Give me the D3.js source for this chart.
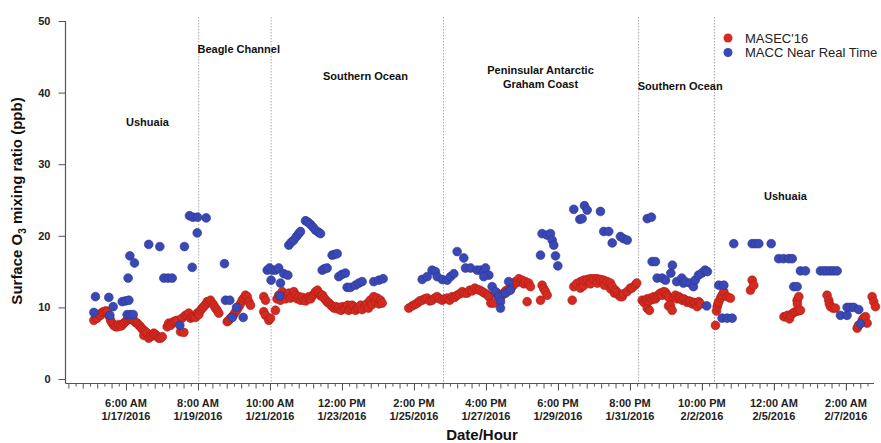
<!DOCTYPE html>
<html lang="en">
<head>
<meta charset="UTF-8" />
<script src="https://cdnjs.cloudflare.com/ajax/libs/d3/7.8.5/d3.min.js"></script>
<title>Surface O3</title>
<style>
body { margin: 0; background: #fff; }
text { font-family: "Liberation Sans", Arial, sans-serif; }
</style>
</head>
<body>
<svg id="chart" width="881" height="443"></svg>
<script>

// hours since 2016-01-15 12:00, ozone in ppb
const masec = [
  [19.7,8.2],[21.0,8.7],[22.0,8.5],[23.2,9.0],[24.3,8.9],[25.5,9.3],[26.6,9.4],[28.0,9.5],[29.0,9.4],
  [30.2,8.8],[31.3,8.2],[32.4,7.8],[33.5,7.5],[34.7,7.3],[35.9,7.3],[37.0,7.6],[38.2,7.4],[39.3,7.5],
  [40.5,7.8],[41.6,8.0],[42.8,8.2],[44.0,8.4],[45.1,8.5],[46.2,8.3],[47.4,8.2],[48.6,7.9],[49.8,7.8],
  [51.0,7.5],[52.1,7.3],[53.2,7.0],[54.4,6.8],[54.4,6.1],[55.5,6.6],[56.7,6.4],[57.8,5.7],[59.0,6.1],
  [60.2,6.0],[61.3,6.4],[62.5,6.2],[63.5,6.0],[64.8,5.7],[66.0,5.7],[67.2,5.9],
  [70.6,7.3],[71.7,7.8],[72.9,7.5],[74.1,7.8],[75.2,8.0],[76.4,8.1],[77.6,8.2],[79.9,6.6],[81.0,8.5],
  [82.2,6.5],[83.3,8.9],[84.5,8.9],[85.6,9.2],[86.8,8.5],[88.0,8.7],[89.1,8.7],[90.3,8.6],[91.5,9.2],
  [92.6,9.0],[93.8,9.6],[95.0,9.9],[96.0,10.1],[97.2,10.4],[98.4,10.8],[99.5,10.7],[100.7,11.0],
  [101.9,10.6],[103.0,10.3],[104.2,9.9],[105.3,9.6],[106.5,9.2],
  [112.3,8.0],[113.4,8.2],[114.6,8.5],[115.8,8.7],[116.9,9.0],[118.1,9.4],[119.2,9.7],[120.4,10.1],
  [121.5,10.5],[122.7,11.0],[123.8,11.3],[125.0,11.7],[126.2,11.5],[127.3,10.8],[128.5,10.3],
  [137.7,11.5],[137.7,9.4],[138.9,11.0],[138.9,8.9],[141.2,8.2],[142.4,8.5],[145.8,9.6],
  [146.9,11.2],[148.1,11.7],[149.3,11.0],[150.5,12.2],[151.6,11.5],[152.8,11.2],[154.0,11.8],
  [155.1,12.0],[156.3,11.3],[157.5,11.6],[158.6,12.2],[159.8,11.7],[161.0,11.2],[162.1,11.5],
  [163.3,11.0],[164.5,11.4],[165.6,11.0],[166.8,10.9],[168.0,11.3],[169.1,11.5],[170.3,11.2],
  [171.5,11.6],[172.6,11.9],[173.8,12.2],[175.0,12.4],[176.1,12.0],[177.3,11.6],[178.5,11.7],
  [179.6,11.3],[180.8,11.0],[182.0,10.7],[183.1,10.6],[184.3,10.3],[185.5,10.1],[186.6,9.9],
  [187.8,10.1],[189.0,9.8],[190.1,10.0],[191.3,9.6],[192.5,10.1],[193.6,9.8],[194.8,10.0],
  [196.0,10.3],[196.7,9.6],[197.9,9.9],[199.0,10.3],[200.2,10.1],[201.4,9.6],[202.6,9.9],
  [203.7,10.0],[204.9,10.3],[206.0,9.7],
  [208.0,10.1],[209.2,10.5],[210.4,9.9],[211.6,11.0],[212.9,10.4],[214.1,11.5],[215.3,10.8],
  [216.5,11.3],[217.7,10.5],[218.8,11.0],[219.9,10.6],
  [238.4,9.9],[240.8,10.2],[242.6,10.4],[244.3,10.6],[246.0,10.9],[247.7,11.0],[249.5,11.2],
  [251.2,11.3],[252.9,10.9],[254.6,11.0],[256.4,11.3],[258.1,11.5],[259.8,11.2],[261.6,11.0],
  [263.3,11.2],[265.1,11.3],[266.8,11.0],[268.6,11.5],[270.3,11.4],[272.0,11.7],[273.8,11.9],
  [275.5,12.2],[277.2,12.0],[279.0,12.0],[280.7,12.4],[282.5,12.3],[284.2,12.7],[285.9,12.5],
  [287.7,12.4],[289.4,12.2],[291.0,12.0],[292.9,11.8],[294.0,11.5],[295.4,10.6],[297.4,10.6],
  [298.6,11.9],[299.8,12.0],[301.0,11.6],[302.1,11.4],[303.3,11.7],[304.4,12.0],[305.6,12.3],
  [306.7,12.2],[308.0,12.6],[309.0,12.6],[310.2,12.9],[311.4,13.2],[312.5,13.6],[313.7,13.5],
  [314.8,14.0],[316.0,13.6],[317.1,13.8],[318.3,13.3],[319.4,13.6],[320.6,10.8],[321.7,13.4],
  [322.9,12.9],[329.9,11.0],[331.0,13.1],[332.2,12.6],[333.3,12.2],[334.5,11.7],
  [351.9,11.0],[353.0,12.9],[354.9,13.3],[357.6,13.6],[357.6,12.7],[359.7,13.0],[359.9,13.8],
  [362.3,13.9],[364.6,14.0],[364.6,13.3],[366.9,14.0],[369.2,14.0],[369.4,13.4],[371.5,13.9],
  [373.8,13.8],[374.3,13.1],[376.2,13.6],[378.5,13.4],[378.5,12.6],[379.7,12.9],[381.2,12.0],
  [381.9,12.4],[383.1,12.1],[384.2,11.7],[385.4,11.5],[386.6,11.5],[387.5,11.9],[390.0,12.2],
  [392.3,12.7],[393.4,12.7],[395.6,13.1],[396.7,13.4],
  [400.5,11.0],[401.7,10.7],[403.0,11.0],[404.0,11.2],[404.0,9.9],[405.2,10.9],[405.5,9.6],
  [406.3,11.3],[407.4,11.1],[408.6,11.5],[409.7,11.2],[410.9,11.5],[412.0,11.8],[413.2,12.0],
  [414.4,11.7],[415.5,12.2],[416.7,12.1],[417.8,11.7],[418.8,10.2],[419.0,11.4],[420.1,10.3],
  [421.3,9.6],[422.4,11.4],[423.6,11.7],[424.8,11.2],[425.9,11.5],[427.1,11.3],[428.3,11.0],
  [429.4,11.2],[430.6,11.0],[431.7,10.7],[432.9,10.9],[434.0,10.8],[435.2,10.5],[436.4,10.7],
  [437.5,10.6],[438.7,10.1],[439.8,10.8],[441.0,10.5],
  [451.4,7.5],[452.1,9.5],[452.6,10.1],[453.1,10.5],[453.7,10.8],[454.9,11.3],[456.0,11.7],
  [457.2,12.2],[459.5,11.5],[461.8,11.3],
  [475.7,12.4],[476.9,13.8],[478.0,13.1],
  [499.0,8.7],[500.0,8.7],[501.4,8.9],[502.8,8.4],[503.5,8.9],[505.2,9.2],[506.9,9.4],[508.1,11.0],
  [508.3,10.5],[508.7,9.5],[509.3,11.5],[510.4,9.6],
  [528.9,11.7],[530.1,11.0],[530.5,10.5],[531.3,10.1],[533.0,9.9],[534.7,9.9],
  [549.8,7.1],[550.7,7.5],[553.3,8.2],[554.2,8.5],[555.6,8.7],[556.7,7.8],
  [560.2,11.5],[561.3,10.8],[562.5,10.1]
];

const macc = [
  [19.7,9.3],[20.8,11.5],[30.1,11.4],[30.8,8.9],[33.1,10.1],[39.4,10.8],[41.7,10.9],[44.0,11.0],
  [42.8,9.0],[45.1,9.0],[47.0,9.0],[43.5,14.1],[44.7,17.2],[47.9,16.2],[57.8,18.8],[65.5,18.5],
  [68.3,14.1],[71.2,14.1],[74.1,14.1],[79.4,7.5],[82.6,18.5],[88.0,15.6],[91.5,20.4],[86.1,22.8],
  [88.5,22.6],[91.7,22.6],[97.7,22.5],[110.4,16.1],[111.1,11.0],[114.1,11.0],[118.8,10.0],
  [115.8,8.6],[123.4,8.6],[140.1,15.2],[141.7,15.5],[143.5,15.2],[142.8,13.8],[145.8,15.2],
  [148.1,15.5],[148.8,11.6],[149.3,13.4],[151.6,14.7],[154.4,14.5],[155.1,18.7],[156.8,19.1],
  [158.5,19.4],[160.4,19.9],[162.0,20.3],[163.2,20.6],[166.7,22.1],[168.4,21.9],[170.1,21.6],
  [171.9,21.2],[173.6,20.8],[175.7,20.5],[177.1,20.3],[178.3,15.2],[179.9,15.4],[181.7,15.5],
  [185.2,17.3],[186.8,17.4],[188.7,17.5],[189.8,14.3],[192.0,14.6],[194.4,14.8],[195.6,12.8],
  [197.9,12.8],[201.4,13.1],[203.7,13.4],[206.0,13.6],[214.1,13.6],[217.6,13.8],[220.6,14.0],
  [247.7,13.9],[251.2,14.3],[254.6,15.2],[256.9,15.0],[258.1,14.3],[261.6,13.9],[265.1,13.8],
  [267.4,14.3],[269.7,14.7],[272.0,17.8],[276.6,16.9],[277.8,15.5],[281.3,15.5],[285.9,15.2],
  [288.2,15.2],[290.5,15.0],[291.7,15.5],[294.0,14.5],[290.5,14.3],[296.3,12.9],[298.6,12.2],
  [300.9,11.5],[302.1,10.8],[302.1,9.9],[305.6,12.0],[307.8,13.6],[309.0,12.4],
  [329.9,17.3],[331.0,20.3],[334.5,20.1],[336.8,20.3],[338.0,19.4],[339.1,18.7],[340.3,17.2],
  [341.9,15.8],[353.0,23.7],[357.2,22.3],[358.8,22.4],[360.4,24.2],[362.3,23.6],[371.5,23.4],
  [373.8,20.6],[377.3,20.6],[379.7,19.0],[385.4,19.9],[387.5,19.6],[390.1,19.4],
  [404.0,22.4],[406.9,22.6],[407.4,16.4],[409.7,16.4],[410.9,14.1],[414.4,14.1],[416.7,13.8],
  [420.4,14.8],[421.5,15.9],[424.5,13.6],[428.0,14.1],[429.2,13.4],[430.3,13.6],[433.8,13.4],
  [436.1,12.9],[437.3,13.8],[439.6,14.5],[441.9,14.8],[444.2,15.2],[445.8,15.0],[445.3,10.2],
  [453.7,13.1],[457.2,13.1],[456.0,8.5],[459.5,8.5],[463.0,8.5],[464.1,18.9],
  [476.9,18.9],[479.2,18.9],[481.5,18.9],[490.1,18.9],[495.3,16.8],[498.6,16.8],[502.3,16.8],
  [504.7,16.8],[505.8,12.9],[508.1,12.9],[510.4,15.1],[513.9,15.1],
  [524.3,15.1],[526.7,15.1],[528.9,15.1],[531.3,15.1],[533.5,15.1],[535.9,15.1],
  [538.2,8.9],[542.8,8.9],[542.8,10.0],[545.1,10.0],[547.4,10.0],[550.9,9.7],[552.1,7.7]
];

const dividers = [92.5, 142.8, 262.5, 398, 450.7];

const majorTicks = ["2016-01-17T06:00", "2016-01-19T08:00", "2016-01-21T10:00", "2016-01-23T12:00",
  "2016-01-25T14:00", "2016-01-27T16:00", "2016-01-29T18:00", "2016-01-31T20:00",
  "2016-02-02T22:00", "2016-02-05T00:00", "2016-02-07T02:00"];

const yTicks = [0, 10, 20, 30, 40, 50];

// region names: [text lines, hour, ppb]
const regions = [
  [["Ushuaia"], 56.9, 35.4],
  [["Beagle Channel"], 120.3, 45.6],
  [["Southern Ocean"], 208.3, 41.7],
  [["Peninsular Antarctic", "Graham Coast"], 329.9, 42.6],
  [["Southern Ocean"], 426.9, 40.3],
  [["Ushuaia"], 500, 25.0]
];

const series = [
  { name: "MASEC'16", data: masec, fill: "#d42a20", stroke: "#a91d15" },
  { name: "MACC Near Real Time", data: macc, fill: "#3a48b6", stroke: "#2a368f" }
];

const t0 = new Date(2016, 0, 15, 12, 0);
const hr = h => new Date(t0.getTime() + h * 3600e3);

const svg = d3.select('#chart');
svg.append('rect').attr('width', 881).attr('height', 443).attr('fill', '#fff');

const x = d3.scaleTime().domain([t0, hr(561.5)]).range([65.5, 874]);
const y = d3.scaleLinear().domain([0, 50]).range([379, 21]);
const axisY = 383.5;

// divider lines
svg.append('g').selectAll('line').data(dividers).join('line')
  .attr('x1', d => x(hr(d))).attr('x2', d => x(hr(d)))
  .attr('y1', 17).attr('y2', axisY)
  .attr('stroke', '#a8a8a8').attr('stroke-width', 1).attr('stroke-dasharray', '1.5,1.5');

// y axis
const gy = svg.append('g').attr('transform', 'translate(65.5,0)');
gy.call(d3.axisLeft(y).tickValues(d3.range(0, 51)).tickSize(3.5).tickFormat(''));
gy.call(d3.axisLeft(y).tickValues(yTicks).tickSize(7).tickPadding(8).tickFormat(d3.format('d')));
gy.selectAll('.domain').remove();
gy.selectAll('line').attr('stroke', '#555');
gy.selectAll('text').attr('font-size', 11).attr('font-weight', 'bold').attr('fill', '#222');

svg.append('line').attr('x1', 65.5).attr('x2', 65.5).attr('y1', 21).attr('y2', axisY)
  .attr('stroke', '#555').attr('stroke-width', 1.2);

// x axis
const majorDates = majorTicks.map(s => new Date(s));
const firstMajor = (majorDates[0] - t0) / 3600e3;
const minorHours = d3.range(firstMajor % 5, 562, 5);
const gx = svg.append('g').attr('transform', `translate(0,${axisY})`);
gx.call(d3.axisBottom(x).tickValues(minorHours.map(hr)).tickFormat('')
  .tickSize(3));
gx.selectAll('.tick line')
  .attr('y2', d => (Math.round((d - t0) / 3600e3 - firstMajor) % 10 === 0) ? 5 : 3);
gx.call(g => g.append('g').call(d3.axisBottom(x).tickValues(majorDates).tickSize(7).tickFormat('')));
gx.selectAll('.domain').remove();
gx.selectAll('line').attr('stroke', '#555');
svg.append('line').attr('x1', 65.5).attr('x2', 874).attr('y1', axisY).attr('y2', axisY)
  .attr('stroke', '#555').attr('stroke-width', 1.2);

const fmtTime = d3.timeFormat('%-I:%M %p');
const fmtDate = d3.timeFormat('%-m/%-d/%Y');
const lbl = svg.append('g').selectAll('text').data(majorDates).join('text')
  .attr('x', d => x(d)).attr('text-anchor', 'middle')
  .attr('font-size', 11).attr('font-weight', 'bold').attr('fill', '#222');
lbl.append('tspan').attr('x', d => x(d)).attr('y', 407).text(d => fmtTime(d));
lbl.append('tspan').attr('x', d => x(d)).attr('y', 420).text(d => fmtDate(d));

// axis titles
svg.append('text').attr('x', 482).attr('y', 440).attr('text-anchor', 'middle')
  .attr('font-size', 15).attr('font-weight', 'bold').attr('fill', '#111').text('Date/Hour');

const yt = svg.append('text').attr('transform', 'translate(22,201) rotate(-90)')
  .attr('text-anchor', 'middle').attr('font-size', 15).attr('font-weight', 'bold').attr('fill', '#111');
yt.append('tspan').text('Surface O');
yt.append('tspan').attr('font-size', 10).attr('dy', 4).text('3');
yt.append('tspan').attr('dy', -4).text(' mixing ratio (ppb)');

// region labels
regions.forEach(([lines, h, v]) => {
  const t = svg.append('text').attr('text-anchor', 'middle')
    .attr('font-size', 11).attr('font-weight', 'bold').attr('fill', '#111');
  lines.forEach((s, i) => {
    t.append('tspan').attr('x', x(hr(h))).attr('y', y(v) + i * 14.5).text(s);
  });
});

// points: red under blue
series.forEach(s => {
  svg.append('g').selectAll('circle').data(s.data).join('circle')
    .attr('cx', d => x(hr(d[0]))).attr('cy', d => y(d[1])).attr('r', 4.4)
    .attr('fill', s.fill).attr('stroke', s.stroke).attr('stroke-width', 0.6);
});

// legend
const lg = svg.append('g').selectAll('g').data(series).join('g')
  .attr('transform', (d, i) => `translate(728,${38 + i * 14.5})`);
lg.append('circle').attr('r', 4.5).attr('fill', d => d.fill);
lg.append('text').attr('x', 17).attr('dy', '0.35em').attr('font-size', 13).attr('fill', '#222')
  .text(d => d.name);

</script>
</body>
</html>
